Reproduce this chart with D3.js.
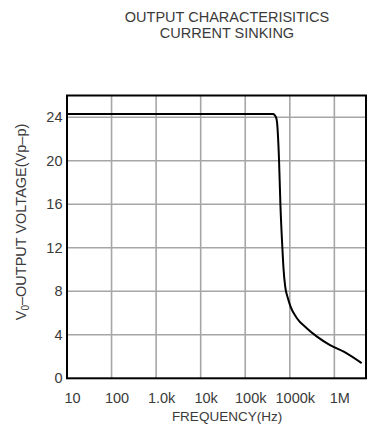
<!DOCTYPE html>
<html>
<head>
<meta charset="utf-8">
<script src="https://cdn.jsdelivr.net/npm/d3@7/dist/d3.min.js"></script>
<style>
  html, body { margin: 0; padding: 0; background: #ffffff; }
  svg { display: block; }
  text { font-family: "Liberation Sans", Arial, sans-serif; fill: #3a3a3a; }
</style>
</head>
<body>
<svg id="chart" width="372" height="436"></svg>
<script>
// Output swing vs. frequency, current sinking
const frequencyHz = [10, 421e3, 490e3, 518e3, 574e3, 615e3, 681e3, 725e3, 790e3, 900e3,
                     1.05e6, 1.43e6, 2.4e6, 4.0e6, 8.0e6, 19e6, 41e6];
const outputVpp   = [24.3, 24.3, 24.0, 23.5, 20.0, 16.0, 12.0, 10.0, 8.4, 7.4,
                     6.55, 5.55, 4.6, 3.85, 3.05, 2.3, 1.4];

const yTicks = [0, 4, 8, 12, 16, 20, 24];
const xTickValues = [1e1, 1e2, 1e3, 1e4, 1e5, 1e6, 1e7];
const xTickLabels = ["10", "100", "1.0k", "10k", "100k", "1000k", "1M"];
const titleLines = ["OUTPUT CHARACTERISITICS", "CURRENT SINKING"];

const W = 372, H = 436;
const plot = { left: 67, right: 366, top: 95.5, bottom: 378.3 };

const svg = d3.select("#chart");

const x = d3.scaleLog()
  .domain([10, Math.pow(10, 7.71)])
  .range([plot.left, plot.right]);
const y = d3.scaleLinear()
  .domain([0, 26])
  .range([plot.bottom, plot.top]);

// title
svg.append("g")
  .selectAll("text")
  .data(titleLines)
  .join("text")
  .attr("x", 227)
  .attr("y", 21 + 0.5)
  .attr("dy", (d, i) => i * 16.5)
  .attr("text-anchor", "middle")
  .style("font-size", "14.5px")
  .text(d => d);

// grid
const grid = svg.append("g").attr("stroke", "#a6a6a6").attr("stroke-width", 1.6);
grid.selectAll("line.h")
  .data(yTicks.filter(v => v > 0))
  .join("line")
  .attr("class", "h")
  .attr("x1", plot.left).attr("x2", plot.right)
  .attr("y1", d => y(d)).attr("y2", d => y(d));
grid.selectAll("line.v")
  .data(xTickValues.slice(1))
  .join("line")
  .attr("class", "v")
  .attr("x1", d => x(d)).attr("x2", d => x(d))
  .attr("y1", plot.top).attr("y2", plot.bottom);

// response curve
const line = d3.line()
  .x((d, i) => x(frequencyHz[i]))
  .y(d => y(d))
  .curve(d3.curveMonotoneX);
svg.append("path")
  .datum(outputVpp)
  .attr("fill", "none")
  .attr("stroke", "#000")
  .attr("stroke-width", 2)
  .attr("stroke-linejoin", "round")
  .attr("d", line);

// frame
svg.append("rect")
  .attr("x", plot.left)
  .attr("y", plot.top)
  .attr("width", plot.right - plot.left)
  .attr("height", plot.bottom - plot.top)
  .attr("fill", "none")
  .attr("stroke", "#000")
  .attr("stroke-width", 2);

// y axis labels
const yAxis = d3.axisLeft(y).tickValues(yTicks).tickSize(0).tickPadding(4);
const gy = svg.append("g").attr("transform", `translate(${plot.left - 0.5},0)`).call(yAxis);
gy.select(".domain").remove();
gy.selectAll("text")
  .style("font-size", "14.5px")
  .style("font-family", '"Liberation Sans", Arial, sans-serif')
  .attr("fill", "#3a3a3a");

// x axis labels
const xAxis = d3.axisBottom(x)
  .tickValues(xTickValues)
  .tickFormat((d, i) => xTickLabels[i])
  .tickSize(0)
  .tickPadding(14);
const gx = svg.append("g").attr("transform", `translate(5,${plot.bottom})`).call(xAxis);
gx.select(".domain").remove();
gx.selectAll("text")
  .style("font-size", "14.5px")
  .style("font-family", '"Liberation Sans", Arial, sans-serif')
  .attr("fill", "#3a3a3a");

// axis titles
svg.append("text")
  .attr("x", 227)
  .attr("y", 421)
  .attr("text-anchor", "middle")
  .style("font-size", "13.5px")
  .text("FREQUENCY(Hz)");

const yTitle = svg.append("text")
  .attr("transform", "translate(26,222) rotate(-90)")
  .attr("text-anchor", "middle")
  .style("font-size", "14.5px");
yTitle.append("tspan").text("V");
yTitle.append("tspan").attr("dy", 3).style("font-size", "10px").text("0");
yTitle.append("tspan").attr("dy", -3).text("\u2013OUTPUT VOLTAGE(Vp\u2013p)");
</script>
</body>
</html>
